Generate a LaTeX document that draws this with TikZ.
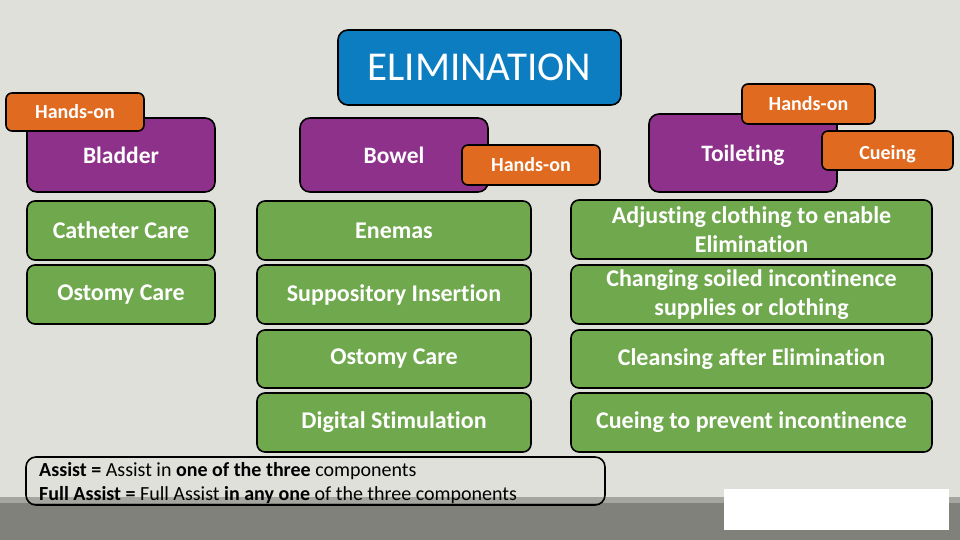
\documentclass[tikz,border=0pt]{standalone}
\usepackage{fontspec}
\setmainfont[Ligatures={NoCommon}]{Carlito}
\definecolor{bg}{HTML}{E0E0DB}
\definecolor{band}{HTML}{80817A}
\definecolor{bandhi}{HTML}{A5A6A0}
\definecolor{elblue}{HTML}{0B7DC0}
\definecolor{purp}{HTML}{8E318A}
\definecolor{orng}{HTML}{E06A1F}
\definecolor{grn}{HTML}{70A84D}
\begin{document}
\begin{tikzpicture}[x=1pt,y=-1pt,
  box/.style={draw=black,line width=1.6pt,text=white,align=center,inner sep=0pt},
  purpbox/.style={box,fill=purp,rounded corners=10pt,font=\fontsize{23.5}{28}\selectfont\bfseries},
  orbox/.style={box,fill=orng,rounded corners=6pt,font=\fontsize{20}{24}\selectfont\bfseries},
  grbox/.style={box,fill=grn,rounded corners=8pt,font=\fontsize{24}{28.5}\selectfont\bfseries},
  titlebox/.style={box,fill=elblue,rounded corners=10pt,font=\fontsize{41}{44}\selectfont}]
\fill[bg] (0,0) rectangle (960,540);
\useasboundingbox (0,0) rectangle (960,540);
\fill[bandhi] (0,497) rectangle (960,504);
\fill[band] (0,503) rectangle (960,540);
\fill[white] (724,489) rectangle (949,530);

\node[titlebox,minimum width=283,minimum height=75] (elim) at (479.5,67.5) {ELIMINATION};

\node[purpbox,minimum width=188,minimum height=74] (bladder) at (121,155) {Bladder};
\node[orbox,minimum width=138,minimum height=38] (hand1) at (75,112) {Hands-on};

\node[purpbox,minimum width=188,minimum height=74] (bowel) at (394,155) {Bowel};
\node[orbox,minimum width=138,minimum height=40] (hand2) at (531,165) {Hands-on};

\node[purpbox,minimum width=188,minimum height=78,text height=18pt,text depth=0pt] (toilet) at (743,153) {Toileting};
\node[orbox,minimum width=133,minimum height=40] (hand3) at (808.5,104) {Hands-on};
\node[orbox,minimum width=131,minimum height=39,text height=19pt,text depth=0pt] (cue) at (887.5,150.5) {Cueing};

\node[grbox,minimum width=188,minimum height=59] (cath) at (121,230.5) {Catheter Care};
\node[grbox,minimum width=188,minimum height=59] (ost1) at (121,294.5) {Ostomy Care};

\node[grbox,minimum width=274,minimum height=59] (enem) at (394,230.5) {Enemas};
\node[grbox,minimum width=274,minimum height=59] (supp) at (394,294.5) {Suppository Insertion};
\node[grbox,minimum width=274,minimum height=58] (ost2) at (394,359) {Ostomy Care};
\node[grbox,minimum width=274,minimum height=59] (dig) at (394,422.5) {Digital Stimulation};

\node[grbox,minimum width=361,minimum height=59] (adj) at (751.5,229.5) {Adjusting clothing to enable\\Elimination};
\node[grbox,minimum width=361,minimum height=59] (chg) at (751.5,294.5) {Changing soiled incontinence\\supplies or clothing};
\node[grbox,minimum width=361,minimum height=58] (cln) at (751.5,359) {Cleansing after Elimination};
\node[grbox,minimum width=361,minimum height=59] (cup) at (751.5,422.5) {Cueing to prevent incontinence};

\node[draw=black,line width=1.6pt,rounded corners=10pt,minimum width=579,minimum height=48,inner sep=0pt] (legend) at (315.5,481) {};
\node[anchor=west,align=left,inner sep=0pt,font=\fontsize{20}{24}\selectfont] (legtxt) at (39,483)
  {\textbf{Assist =} Assist in \textbf{one of the three} components\\
   \textbf{Full Assist =} Full Assist \textbf{in any one} of the three components};
\end{tikzpicture}
\end{document}
